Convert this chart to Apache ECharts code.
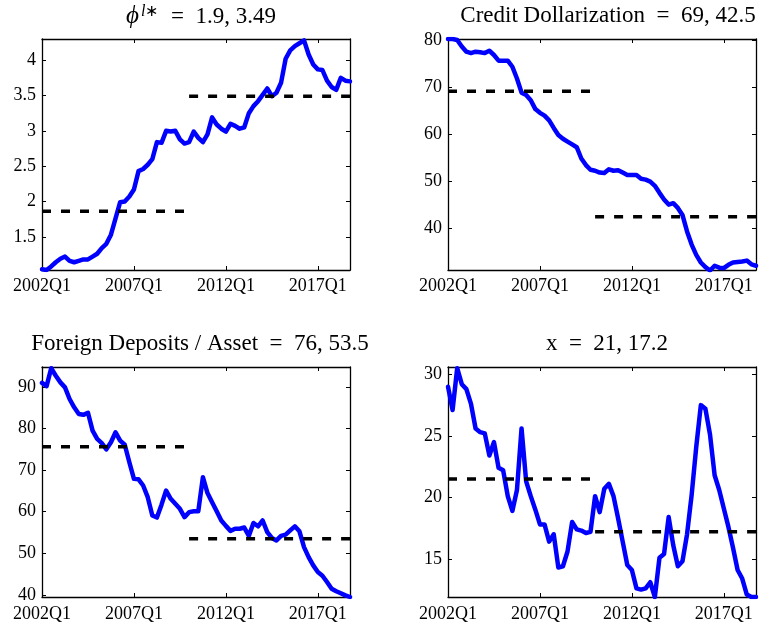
<!DOCTYPE html>
<html><head><meta charset="utf-8">
<script src="https://cdn.jsdelivr.net/npm/echarts@6/dist/echarts.min.js"></script>
<style>html,body{margin:0;padding:0;background:#fff}#c{width:761px;height:628px}</style>
</head><body><div id="c"></div>
<script>
const quarters = ['2002Q1','2002Q2','2002Q3','2002Q4','2003Q1','2003Q2','2003Q3','2003Q4','2004Q1','2004Q2','2004Q3','2004Q4',
'2005Q1','2005Q2','2005Q3','2005Q4','2006Q1','2006Q2','2006Q3','2006Q4','2007Q1','2007Q2','2007Q3','2007Q4',
'2008Q1','2008Q2','2008Q3','2008Q4','2009Q1','2009Q2','2009Q3','2009Q4','2010Q1','2010Q2','2010Q3','2010Q4',
'2011Q1','2011Q2','2011Q3','2011Q4','2012Q1','2012Q2','2012Q3','2012Q4','2013Q1','2013Q2','2013Q3','2013Q4',
'2014Q1','2014Q2','2014Q3','2014Q4','2015Q1','2015Q2','2015Q3','2015Q4','2016Q1','2016Q2','2016Q3','2016Q4',
'2017Q1','2017Q2','2017Q3','2017Q4','2018Q1','2018Q2','2018Q3','2018Q4'];
const xTickLabels = ['2002Q1','2007Q1','2012Q1','2017Q1'];

const phi = [1.04,1.03,1.08,1.14,1.19,1.22,1.16,1.14,1.16,1.18,1.18,1.22,1.26,1.34,1.40,1.53,1.76,1.99,2.00,2.07,
2.17,2.43,2.46,2.52,2.60,2.84,2.83,3.00,2.99,3.00,2.88,2.82,2.84,2.99,2.90,2.84,2.95,3.19,3.09,3.03,
2.99,3.10,3.07,3.03,3.05,3.25,3.35,3.42,3.51,3.60,3.49,3.54,3.68,4.02,4.14,4.20,4.24,4.28,4.08,3.94,
3.87,3.86,3.71,3.62,3.58,3.75,3.71,3.70];
const credit = [80.3,80.3,80.1,78.7,77.6,77.3,77.6,77.5,77.3,77.8,76.9,75.7,75.7,75.7,74.4,71.9,68.9,68.4,67.3,65.4,
64.6,64.0,63.0,61.4,59.9,59.1,58.5,57.9,57.3,54.9,53.5,52.5,52.3,51.9,51.8,52.6,52.3,52.4,51.9,51.4,
51.4,51.4,50.6,50.4,50.0,49.1,47.6,46.2,45.1,45.4,44.4,42.9,39.4,36.6,34.4,32.8,31.8,31.1,32.1,31.7,
31.6,32.3,32.8,32.9,33.0,33.2,32.4,32.1];
const deposits = [91.0,90.2,94.5,92.7,91.1,89.9,87.1,85.1,83.5,83.3,83.8,79.5,77.5,76.5,75.0,76.7,79.1,77.1,76.1,71.9,
67.9,67.8,66.3,63.5,59.1,58.6,61.7,65.1,63.1,61.9,60.7,58.7,59.9,60.1,60.1,68.3,64.5,62.3,60.1,57.9,
56.6,55.4,55.9,55.9,56.2,54.2,57.3,56.5,57.9,55.1,53.7,53.1,54.2,54.5,55.5,56.5,55.3,51.5,49.1,47.1,
45.5,44.6,43.1,41.5,40.9,40.4,39.9,39.5];
const xSeries = [29.0,27.1,30.5,29.2,28.8,27.6,25.6,25.3,25.2,23.4,24.5,22.4,22.2,20.1,18.9,20.6,25.6,21.3,20.1,19.0,
17.8,17.8,16.4,17.0,14.3,14.4,15.6,18.0,17.4,17.3,17.1,17.2,20.1,18.8,20.7,21.1,20.1,18.3,16.4,14.5,
14.1,12.6,12.5,12.6,13.1,11.9,15.1,15.4,18.4,16.1,14.4,14.8,17.0,20.2,24.1,27.5,27.2,25.1,21.8,20.6,
19.1,17.6,15.9,14.1,13.4,12.1,11.9,11.9];

const phiMeans = [1.86, 3.49];
const creditMeans = [69.2, 42.5];
const depositMeans = [75.6, 53.5];
const xMeans = [21.5, 17.2];
const periodSplit = ['2009Q4', '2010Q1']; // end of first period, start of second

const yTicks1 = [1.5, 2, 2.5, 3, 3.5, 4];
const yTicks2 = [40, 50, 60, 70, 80];
const yTicks3 = [40, 50, 60, 70, 80, 90];
const yTicks4 = [15, 20, 25, 30];

const FONT = 'Liberation Serif';
const panels = [
  {data: phi, means: phiMeans, ticks: yTicks1, min: 1.03, max: 4.30, grid: {left: 42, top: 39, width: 308, height: 231}},
  {data: credit, means: creditMeans, ticks: yTicks2, min: 31.2, max: 80.3, grid: {left: 448, top: 39, width: 308, height: 231}},
  {data: deposits, means: depositMeans, ticks: yTicks3, min: 39.5, max: 94.8, grid: {left: 42, top: 367, width: 308, height: 230}},
  {data: xSeries, means: xMeans, ticks: yTicks4, min: 11.9, max: 30.6, grid: {left: 448, top: 367, width: 308, height: 230}}
];

const endFirst = quarters.indexOf(periodSplit[0]);
const startSecond = quarters.indexOf(periodSplit[1]);
const showTick = (i, v) => xTickLabels.indexOf(v) >= 0;

const option = {animation: false, backgroundColor: '#fff', grid: [], xAxis: [], yAxis: [], series: [], title: []};
panels.forEach((p, k) => {
  option.grid.push(Object.assign({containLabel: false}, p.grid));
  const axLine = {show: true, onZero: false, lineStyle: {color: '#000', width: 1.3}};
  option.xAxis.push({type: 'category', gridIndex: k, data: quarters, boundaryGap: false, position: 'bottom',
    axisLine: axLine, axisTick: {show: true, inside: true, length: 4, interval: showTick, lineStyle: {color: '#000'}},
    axisLabel: {interval: showTick, color: '#000', fontFamily: FONT, fontSize: 18, margin: k < 2 ? 7 : 8}, splitLine: {show: false}});
  option.xAxis.push({type: 'category', gridIndex: k, data: quarters, boundaryGap: false, position: 'top',
    axisLine: axLine, axisTick: {show: true, inside: true, length: 4, interval: showTick, lineStyle: {color: '#000'}},
    axisLabel: {show: false}, splitLine: {show: false}});
  option.yAxis.push({type: 'value', gridIndex: k, min: p.min, max: p.max, position: 'left',
    axisLine: axLine, axisTick: {show: true, inside: true, length: 4, customValues: p.ticks, lineStyle: {color: '#000'}},
    axisLabel: {customValues: p.ticks, color: '#000', fontFamily: FONT, fontSize: 18, margin: 6}, splitLine: {show: false}});
  option.yAxis.push({type: 'value', gridIndex: k, min: p.min, max: p.max, position: 'right',
    axisLine: axLine, axisTick: {show: true, inside: true, length: 4, customValues: p.ticks, lineStyle: {color: '#000'}},
    axisLabel: {show: false}, splitLine: {show: false}});
  option.series.push({type: 'line', xAxisIndex: 2 * k, yAxisIndex: 2 * k, data: p.data, showSymbol: false, symbol: 'none',
    lineStyle: {color: '#0000ff', width: 4.5, join: 'round', cap: 'round'}, clip: true, z: 2});
  const d1 = quarters.map((q, i) => i <= endFirst ? p.means[0] : null);
  const d2 = quarters.map((q, i) => i >= startSecond ? p.means[1] : null);
  [d1, d2].forEach(d => option.series.push({type: 'line', xAxisIndex: 2 * k, yAxisIndex: 2 * k, data: d, symbol: 'none',
    lineStyle: {color: '#000', width: 3.5, type: [9, 10]}, clip: true, z: 3}));
});

const EQ = '\u2002=\u2002';
const titleStyle = {fontFamily: FONT, fontSize: 23, fontWeight: 'normal', color: '#000'};
option.title = [
  {text: '{p|ϕ}{l|l}{a|∗}' + EQ + '1.9, 3.49', left: 196, top: -1, textAlign: 'center',
   textStyle: Object.assign({}, titleStyle, {rich: {
     p: {fontFamily: FONT, fontSize: 25, fontStyle: 'italic', verticalAlign: 'bottom'},
     l: {fontFamily: FONT, fontSize: 16, fontStyle: 'italic', verticalAlign: 'top', padding: [0, 0, 0, 2]},
     a: {fontFamily: FONT, fontSize: 16, verticalAlign: 'top', padding: [0, 1, 0, 0]}
   }})},
  {text: 'Credit Dollarization' + EQ + '69, 42.5', left: 603, top: -1, textAlign: 'center', textStyle: titleStyle},
  {text: 'Foreign Deposits / Asset' + EQ + '76, 53.5', left: 195, top: 327, textAlign: 'center', textStyle: titleStyle},
  {text: 'x' + EQ + '21, 17.2', left: 602, top: 327, textAlign: 'center', textStyle: titleStyle}
];

const chart = echarts.init(document.getElementById('c'), null, {renderer: 'canvas'});
chart.setOption(option);
</script></body></html>
